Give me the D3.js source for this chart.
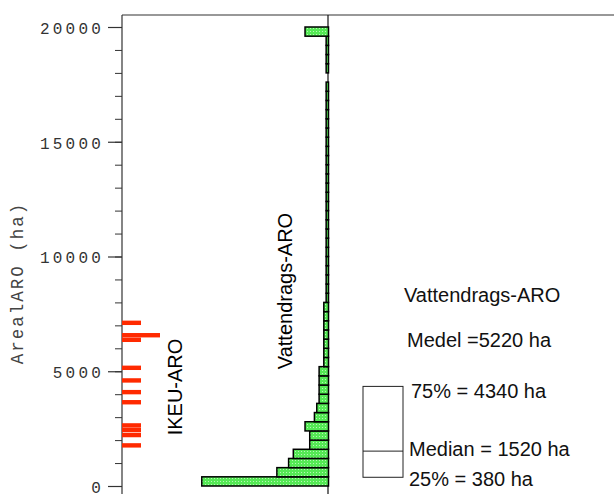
<!DOCTYPE html>
<html>
<head>
<meta charset="utf-8">
<script src="https://cdn.jsdelivr.net/npm/d3@7"></script>
<style>
  body { margin: 0; background: #fff; }
  svg { display: block; }
</style>
</head>
<body>
<div id="chart"></div>
<script>
var chart_width = 614,
    chart_height = 494;

// Vattendrags-ARO histogram, 400 ha bins from 0 to 20000
var binSize = 400;
var vattenCounts = [
    54, 22, 17, 15, 8, 8, 10, 6, 5, 4,
    4, 4, 4, 2, 2, 2, 2, 2, 2, 2,
    1, 1, 1, 1, 1, 1, 1, 1, 1, 1,
    1, 1, 1, 1, 1, 1, 1, 1, 1, 1,
    1, 1, 1, 1, 0, 1, 1, 1, 1, 10
];

// IKEU-ARO single sites (ha)
var ikeuValues = [7110, 6570, 6570, 6370, 5150, 4600, 4090, 3650, 2640, 2440, 2220, 1770];

// Vattendrags-ARO summary
var quartiles = [380, 1520, 4340];
var meanValue = 5220;

var majorTicks = [0, 5000, 10000, 15000, 20000];
var minorTicks = d3.range(0, 20001, 1000);

var svg = d3.select("#chart")
    .append("svg")
    .attr("width", chart_width)
    .attr("height", chart_height);

var defs = svg.append("defs");
var pat = defs.append("pattern")
    .attr("id", "dots")
    .attr("width", 3)
    .attr("height", 3)
    .attr("patternUnits", "userSpaceOnUse");
pat.append("rect").attr("width", 3).attr("height", 3).attr("fill", "#55e955");
pat.append("rect").attr("x", 1).attr("y", 1).attr("width", 1).attr("height", 1).attr("fill", "#b6f6b6");

// Scales
var y = d3.scaleLinear().domain([0, 20000]).range([486, 27]);
var x = d3.scaleLinear().domain([0, 88]).range([328.5, 122]);

var axisX = 122, topY = 15;

// frame lines
svg.append("line")
    .attr("x1", axisX).attr("x2", chart_width)
    .attr("y1", topY).attr("y2", topY)
    .attr("stroke", "#333").attr("stroke-width", 1.2);
svg.append("line")
    .attr("x1", 328).attr("x2", 328)
    .attr("y1", topY).attr("y2", chart_height)
    .attr("stroke", "#111").attr("stroke-width", 1.2);

// Y axis
var minorAxis = d3.axisLeft(y).tickValues(minorTicks).tickSize(7).tickFormat("");
var majorAxis = d3.axisLeft(y).tickValues(majorTicks).tickSize(14).tickPadding(4)
    .tickFormat(d3.format("d"));

svg.append("g")
    .attr("transform", "translate(" + axisX + ",0)")
    .call(minorAxis)
    .call(function (g) { g.select(".domain").remove(); })
    .selectAll("line").attr("stroke", "#333");

var yAxis = svg.append("g")
    .attr("transform", "translate(" + axisX + ",0)")
    .call(majorAxis)
    .call(function (g) { g.select(".domain").remove(); });
yAxis.selectAll("line").attr("stroke", "#333").attr("stroke-width", 1.2);
yAxis.selectAll("text")
    .attr("x", -18)
    .attr("dy", "0.4em")
    .attr("font-family", "'Liberation Mono', 'Courier New', monospace")
    .attr("font-size", 16)
    .attr("letter-spacing", 3.2)
    .attr("fill", "#333");

svg.append("line")
    .attr("x1", axisX).attr("x2", axisX)
    .attr("y1", topY).attr("y2", chart_height)
    .attr("stroke", "#333").attr("stroke-width", 1.2);

svg.append("text")
    .attr("transform", "translate(23,283) rotate(-90)")
    .attr("text-anchor", "middle")
    .attr("font-family", "'Liberation Mono', 'Courier New', monospace")
    .attr("font-size", 17.5)
    .attr("letter-spacing", 2)
    .attr("fill", "#444")
    .text("ArealARO (ha)");

// histogram bars
var bins = vattenCounts.map(function (c, i) {
    return { lo: i * binSize, hi: (i + 1) * binSize, count: c };
}).filter(function (d) { return d.count > 0; });

svg.append("g")
    .selectAll("rect")
    .data(bins)
    .enter()
    .append("rect")
    .attr("x", function (d) { return x(d.count); })
    .attr("y", function (d) { return y(d.hi); })
    .attr("width", function (d) { return x(0) - x(d.count); })
    .attr("height", function (d) { return y(d.lo) - y(d.hi); })
    .attr("fill", "url(#dots)")
    .attr("stroke", "#000")
    .attr("stroke-width", 1.5);

// IKEU strip, duplicates stacked sideways
var seen = {};
var strips = ikeuValues.map(function (v) {
    var k = seen[v] || 0;
    seen[v] = k + 1;
    return { value: v, slot: k };
});
var stripLen = 19;
svg.append("g")
    .selectAll("rect")
    .data(strips)
    .enter()
    .append("rect")
    .attr("x", function (d) { return axisX + d.slot * stripLen; })
    .attr("y", function (d) { return y(d.value) - 2.2; })
    .attr("width", stripLen)
    .attr("height", 4.4)
    .attr("fill", "#ff2a00");

// rotated group labels
svg.append("text")
    .attr("transform", "translate(182,387) rotate(-90)")
    .attr("text-anchor", "middle")
    .attr("font-family", "'Liberation Sans', Arial, sans-serif")
    .attr("font-size", 20)
    .text("IKEU-ARO");

svg.append("text")
    .attr("transform", "translate(292,291) rotate(-90)")
    .attr("text-anchor", "middle")
    .attr("font-family", "'Liberation Sans', Arial, sans-serif")
    .attr("font-size", 20)
    .text("Vattendrags-ARO");

// box summary
var boxX = 363, boxW = 40;
svg.append("rect")
    .attr("x", boxX)
    .attr("y", y(quartiles[2]))
    .attr("width", boxW)
    .attr("height", y(quartiles[0]) - y(quartiles[2]))
    .attr("fill", "none")
    .attr("stroke", "#222")
    .attr("stroke-width", 1);
svg.append("line")
    .attr("x1", boxX).attr("x2", boxX + boxW)
    .attr("y1", y(quartiles[1])).attr("y2", y(quartiles[1]))
    .attr("stroke", "#222");

var txt = svg.append("g")
    .attr("font-family", "'Liberation Sans', Arial, sans-serif")
    .attr("font-size", 20)
    .attr("fill", "#111");

txt.append("text").attr("x", 404).attr("y", 302).text("Vattendrags-ARO");
txt.append("text").attr("x", 407).attr("y", 347).text("Medel =" + meanValue + " ha");
txt.append("text").attr("x", 411).attr("y", 398).text("75% = " + quartiles[2] + " ha");
txt.append("text").attr("x", 409).attr("y", 456).text("Median = " + quartiles[1] + " ha");
txt.append("text").attr("x", 409).attr("y", 486).text("25% = " + quartiles[0] + " ha");
</script>
</body>
</html>
